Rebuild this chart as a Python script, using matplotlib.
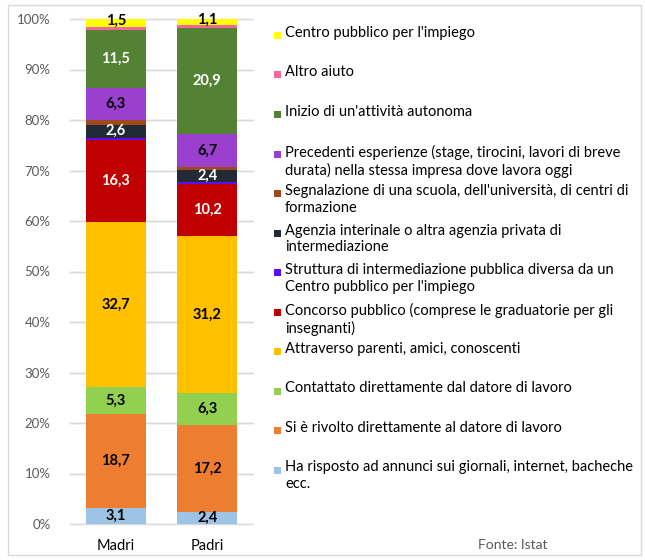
import matplotlib
matplotlib.use("Agg")
import matplotlib.pyplot as plt
from matplotlib.patches import Rectangle

plt.rcParams['font.family'] = ['Lato', 'DejaVu Sans']

groups = ["Madri", "Padri"]
# bottom to top
series = [
    "Ha risposto ad annunci sui giornali, internet, bacheche\necc.",
    "Si è rivolto direttamente al datore di lavoro",
    "Contattato direttamente dal datore di lavoro",
    "Attraverso parenti, amici, conoscenti",
    "Concorso pubblico (comprese le graduatorie per gli\ninsegnanti)",
    "Struttura di intermediazione pubblica diversa da un\nCentro pubblico per l'impiego",
    "Agenzia interinale o altra agenzia privata di\nintermediazione",
    "Segnalazione di una scuola, dell'università, di centri di\nformazione",
    "Precedenti esperienze (stage, tirocini, lavori di breve\ndurata) nella stessa impresa dove lavora oggi",
    "Inizio di un'attività autonoma",
    "Altro aiuto",
    "Centro pubblico per l'impiego",
]
madri = [3.1, 18.7, 5.3, 32.7, 16.3, 0.4, 2.6, 0.9, 6.3, 11.5, 0.7, 1.5]
padri = [2.4, 17.2, 6.3, 31.2, 10.2, 0.4, 2.4, 0.5, 6.7, 20.9, 0.7, 1.1]
colors = ["#9DC3E6", "#ED7D31", "#92D050", "#FFC000", "#C00000", "#5B0FF5",
          "#222A35", "#9E4A1C", "#9B3FCF", "#548235", "#F4679D", "#FFFF00"]
label_color = ["black", "black", "black", "black", "white", None,
               "white", None, "black", "white", None, "black"]
yticks = [0, 10, 20, 30, 40, 50, 60, 70, 80, 90, 100]

W, H = 645, 560
fig = plt.figure(figsize=(W / 100, H / 100), dpi=100)
fig.patch.set_facecolor("white")
fig.patches.append(Rectangle((8 / W, 5 / H), 633 / W, 550 / H, transform=fig.transFigure,
                             fill=False, edgecolor="#D9D9D9", linewidth=1.0))

ax = fig.add_axes([70 / W, (H - 524) / H, 183 / W, 505 / H])
ax.set_xlim(-0.5, 1.5)
ax.set_ylim(0, 100)
for s in ax.spines.values():
    s.set_visible(False)
ax.set_yticks(yticks)
ax.set_yticklabels([f"{t}%" for t in yticks], color="#595959", fontsize=9.5)
ax.tick_params(length=0, pad=14)
ax.yaxis.grid(True, color="#D9D9D9", linewidth=1.0)
ax.set_axisbelow(True)
for t in yticks:
    ax.axhline(t, color="#D9D9D9", linewidth=1.0, zorder=0, clip_on=False)

x = [0, 1]
bottoms = [0.0, 0.0]
for i, name in enumerate(series):
    vals = [madri[i], padri[i]]
    ax.bar(x, vals, width=0.66, bottom=bottoms, color=colors[i], linewidth=0, zorder=2)
    if label_color[i] is not None:
        for j in range(2):
            yc = bottoms[j] + vals[j] / 2
            if i == len(series) - 1:
                yc = bottoms[j] + vals[j] / 2 + 0.3
            ax.text(x[j], yc, f"{vals[j]:.1f}".replace(".", ","), ha="center", va="center",
                    fontsize=10.5, fontweight="bold", color=label_color[i], zorder=3)
    bottoms = [bottoms[0] + vals[0], bottoms[1] + vals[1]]

ax.set_xticks(x)
ax.set_xticklabels(groups, fontsize=10.5, color="black")
ax.tick_params(axis="x", pad=11)

# legend (top to bottom)
y0 = 35
step = 39.5
for k, i in enumerate(range(len(series) - 1, -1, -1)):
    yc = y0 + step * k
    fig.patches.append(Rectangle((274 / W, (H - yc - 4) / H), 7 / W, 7 / H,
                                 transform=fig.transFigure, facecolor=colors[i], edgecolor="none"))
    fig.text(285 / W, (H - yc + 9) / H, series[i], ha="left", va="top", fontsize=10.5,
             color="black", linespacing=1.25)

fig.text(548 / W, (H - 545) / H, "Fonte: Istat", ha="right", va="center", fontsize=10,
         color="#595959")

fig.savefig("out.png", dpi=100)
